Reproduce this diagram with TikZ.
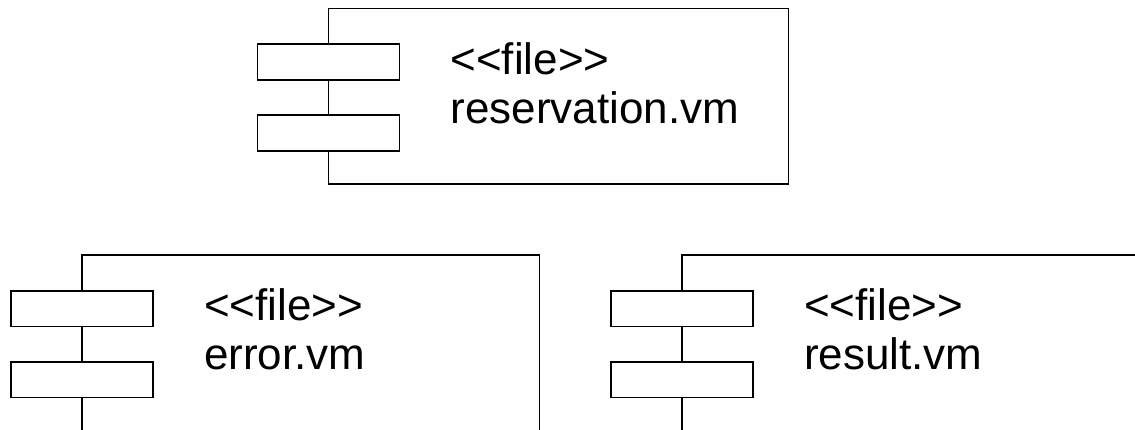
\documentclass[tikz,border=0pt]{standalone}
\usepackage{fontspec}
\newfontfamily\umlfont{Liberation Sans}
\usetikzlibrary{calc}
\begin{document}
\begin{tikzpicture}[x=1pt,y=-1pt,
  body/.style={draw, line width=1.6pt, minimum width=460pt, minimum height=175.3pt,
    anchor=north west, inner sep=0pt, outer sep=0pt},
  port/.style={draw, fill=white, line width=1.6pt, minimum width=142pt,
    minimum height=35.5pt, inner sep=0pt, outer sep=0pt},
  umltext/.style={anchor=base west, inner sep=0pt, outer sep=0pt,
    font=\umlfont\fontsize{44}{49}\selectfont}]
\useasboundingbox (0,0) rectangle (1135,430);
\clip (0,0) rectangle (1135,430);

% component reservation.vm
\node[body] (res) at (328.3,8.7) {};
\node[port] (res-p1) at ($(res.north west)+(0,53.3)$) {};
\node[port] (res-p2) at ($(res.north west)+(0,124.3)$) {};
\node[umltext] (res-st) at ($(res.north west)+(122.3,65.5)$) {<\kern0pt<file>\kern0pt>};
\node[umltext] (res-nm) at ($(res.north west)+(122.3,114.8)$) {reservation.vm};

% component error.vm
\node[body, minimum width=457.6pt, minimum height=177pt] (err) at (81.7,255.3) {};
\node[port] (err-p1) at ($(err.north west)+(0,53.3)$) {};
\node[port] (err-p2) at ($(err.north west)+(0,124.3)$) {};
\node[umltext] (err-st) at ($(err.north west)+(122.3,65)$) {<\kern0pt<file>\kern0pt>};
\node[umltext] (err-nm) at ($(err.north west)+(122.3,114.3)$) {error.vm};

% component result.vm
\node[body, minimum height=177pt] (rst) at (681.7,255.3) {};
\node[port] (rst-p1) at ($(rst.north west)+(0,53.3)$) {};
\node[port] (rst-p2) at ($(rst.north west)+(0,124.3)$) {};
\node[umltext] (rst-st) at ($(rst.north west)+(122.3,65)$) {<\kern0pt<file>\kern0pt>};
\node[umltext] (rst-nm) at ($(rst.north west)+(122.3,114.3)$) {result.vm};
\end{tikzpicture}
\end{document}
